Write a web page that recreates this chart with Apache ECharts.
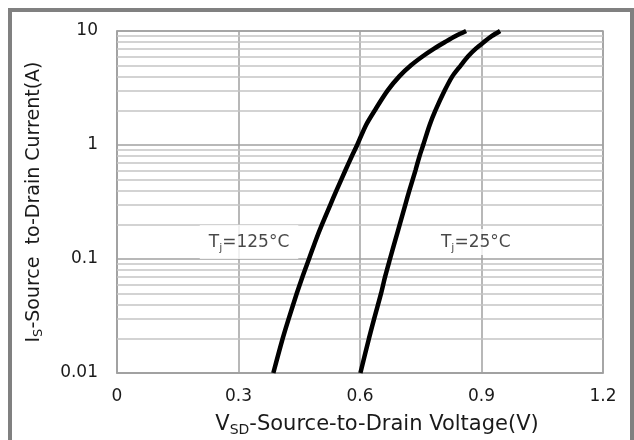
<!DOCTYPE html>
<html>
<head>
<meta charset="utf-8">
<script src="https://cdn.jsdelivr.net/npm/echarts@6/dist/echarts.min.js"></script>
<style>
html,body{margin:0;padding:0;background:#fff;}
#c{width:634px;height:440px;}
</style>
</head>
<body>
<div id="c"></div>
<script>
// Data
const isCurrent = [0.01, 0.02, 0.03, 0.05, 0.07, 0.1, 0.15, 0.2, 0.3, 0.4, 0.6, 0.8, 1, 1.5, 2, 3, 4, 5, 6, 7, 8, 9, 10];
const vf125 = [0.386, 0.409, 0.424, 0.444, 0.458, 0.474, 0.492, 0.506, 0.527, 0.542, 0.564, 0.580, 0.593, 0.615, 0.636, 0.668, 0.697, 0.726, 0.755, 0.783, 0.810, 0.835, 0.862];
const vf25 = [0.601, 0.622, 0.635, 0.652, 0.662, 0.674, 0.688, 0.698, 0.712, 0.722, 0.737, 0.747, 0.756, 0.772, 0.786, 0.809, 0.828, 0.849, 0.867, 0.886, 0.906, 0.925, 0.946];
const xTicks = [0, 0.3, 0.6, 0.9, 1.2];
const yDecades = [0.01, 0.1, 1];
const minorMultipliers = [2, 3, 4, 5, 6, 7, 8, 9];
const curveLabels = ['{a|T}{s|j}{a|=125°C}', '{a|T}{s|j}{a|=25°C}'];
const labelAnchorV = [0.326, 0.886];
const labelAnchorI = [0.141, 0.141];

const FONT = 'DejaVu Sans';
const chart = echarts.init(document.getElementById('c'), null, {renderer: 'canvas'});

const minorLines = [];
yDecades.forEach(d => minorMultipliers.forEach(m => minorLines.push({yAxis: +(d * m).toPrecision(3)})));

const pair = (xs, ys) => xs.map((x, i) => [x, ys[i]]);

const labelRich = {
  a: {fontFamily: FONT, fontSize: 17, color: '#1a1a1a'},
  s: {fontFamily: FONT, fontSize: 11, color: '#1a1a1a', padding: [11, 0, 0, 0]}
};
const labelPads = [[7, 9, 5, 9], [3, 4, 1, 4]];

chart.setOption({
  animation: false,
  backgroundColor: '#fff',
  grid: {left: 117, right: 31, top: 31, bottom: 67, containLabel: false, outerBoundsMode: 'none',
    show: true, borderColor: '#a0a0a0', borderWidth: 1.5, backgroundColor: 'transparent'},
  xAxis: {
    type: 'value', min: xTicks[0], max: xTicks[xTicks.length - 1], interval: 0.3,
    axisLine: {show: true, lineStyle: {color: '#a0a0a0', width: 1.5}},
    axisTick: {show: false},
    splitLine: {show: true, lineStyle: {color: '#a0a0a0', width: 1.5}},
    axisLabel: {fontFamily: FONT, fontSize: 17, color: '#1a1a1a', margin: 15,
      formatter: v => { const t = xTicks.find(k => Math.abs(k - v) < 1e-6); return t === undefined ? '' : String(t); }},
    name: '{a|V}{s|SD}{a|-Source-to-Drain Voltage(V)}',
    nameLocation: 'middle', nameGap: 40,
    nameTextStyle: {padding: [0, 0, 0, 34], rich: {
      a: {fontFamily: FONT, fontSize: 21, color: '#1a1a1a'},
      s: {fontFamily: FONT, fontSize: 14, color: '#1a1a1a', padding: [10, 0, 0, 0]}
    }}
  },
  yAxis: {
    type: 'log', logBase: 10, min: 0.01, max: 10,
    axisLine: {show: true, lineStyle: {color: '#a0a0a0', width: 1.5}},
    axisTick: {show: false},
    splitLine: {show: true, lineStyle: {color: '#a0a0a0', width: 1.5}},
    axisLabel: {fontFamily: FONT, fontSize: 17, color: '#1a1a1a', margin: 19},
    name: '{a|I}{s|S}{a|-Source  to-Drain Current(A)}',
    nameLocation: 'middle', nameGap: 72, nameRotate: 90,
    nameTextStyle: {rich: {
      a: {fontFamily: FONT, fontSize: 19, color: '#1a1a1a'},
      s: {fontFamily: FONT, fontSize: 13, color: '#1a1a1a', padding: [9, 0, 0, 0]}
    }}
  },
  graphic: [
    {type: 'rect', shape: {x: 10, y: 10, width: 622, height: 440}, style: {fill: 'none', stroke: '#808080', lineWidth: 4}, z: 100}
  ],
  series: [
    {
      type: 'line', data: [], z: 1, silent: true,
      markLine: {silent: true, symbol: ['none', 'none'], label: {show: false},
        lineStyle: {type: 'solid', color: '#c4c4c4', width: 1.5}, data: minorLines, animation: false}
    },
    {
      type: 'scatter', z: 5, silent: true, symbolSize: 0,
      data: labelAnchorV.map((v, i) => ({
        value: [v, labelAnchorI[i]],
        label: {show: true, position: 'inside', formatter: curveLabels[i],
          backgroundColor: '#fff', padding: labelPads[i], rich: labelRich}
      }))
    },
    {type: 'line', data: pair(vf125, isCurrent), smooth: 0.3, showSymbol: false, z: 10,
      lineStyle: {color: '#000', width: 4.5}},
    {type: 'line', data: pair(vf25, isCurrent), smooth: 0.3, showSymbol: false, z: 10,
      lineStyle: {color: '#000', width: 4.5}}
  ]
});
</script>
</body>
</html>
